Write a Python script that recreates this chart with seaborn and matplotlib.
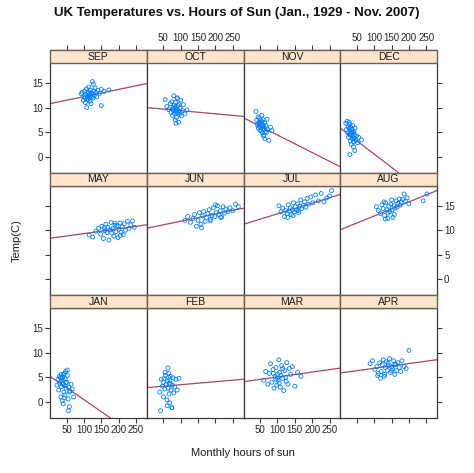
import numpy as np
import pandas as pd
import matplotlib
matplotlib.use("Agg")
import matplotlib.pyplot as plt
from matplotlib.patches import Rectangle
import seaborn as sns

# ---------------- data ----------------
months = ["SEP", "OCT", "NOV", "DEC", "MAY", "JUN", "JUL", "AUG", "JAN", "FEB", "MAR", "APR"]

sep_sun = [92, 95, 98, 100, 102, 104, 105, 107, 108, 110, 111, 112, 113, 114, 115, 116, 117, 118, 119, 120,
           121, 122, 124, 125, 126, 128, 130, 132, 134, 137, 140, 145, 150, 158, 172, 103, 109, 127, 150]
sep_temp = [12.8, 13.1, 11.5, 12.2, 13.4, 11.0, 12.6, 13.8, 10.0, 12.3, 12.9, 11.7, 13.2, 14.2, 12.0, 12.7, 11.3, 13.6, 12.4, 10.8,
            13.0, 12.1, 15.3, 12.8, 11.9, 13.4, 12.5, 14.0, 13.1, 12.2, 13.5, 12.9, 13.7, 13.3, 13.6, 12.0, 11.6, 14.8, 10.4]

oct_sun = [55, 60, 65, 70, 72, 74, 76, 78, 79, 80, 81, 82, 83, 84, 85, 86, 87, 88, 89, 90,
           91, 92, 93, 94, 95, 96, 98, 100, 102, 105, 108, 112, 118, 77, 86, 90, 97]
oct_temp = [11.6, 10.2, 9.6, 10.8, 9.0, 11.2, 8.4, 10.0, 9.4, 12.4, 8.8, 10.5, 9.8, 7.5, 11.0, 9.2, 10.1, 8.0, 9.6, 11.8,
            8.9, 10.4, 9.3, 7.0, 10.7, 8.6, 9.9, 11.5, 8.3, 9.4, 10.6, 8.7, 9.5, 9.7, 6.8, 12.0, 9.1]

nov_sun = [38, 40, 42, 44, 45, 46, 47, 48, 49, 50, 51, 52, 53, 54, 55, 56, 57, 58, 59, 60,
           61, 62, 63, 64, 65, 66, 68, 70, 72, 75, 80, 84, 48, 55, 60]
nov_temp = [9.2, 7.4, 6.5, 8.1, 5.8, 7.0, 6.2, 7.8, 5.4, 6.8, 7.3, 6.0, 5.2, 6.6, 7.1, 4.8, 6.3, 5.7, 7.5, 6.1,
            4.4, 5.6, 6.9, 3.6, 5.1, 6.4, 4.9, 7.6, 5.5, 3.3, 6.0, 5.3, 6.7, 8.4, 4.2]

dec_sun = [18, 20, 22, 24, 25, 26, 27, 28, 29, 30, 31, 32, 33, 34, 35, 36, 37, 38, 39, 40,
           41, 42, 43, 44, 45, 47, 49, 52, 55, 63, 30, 35, 40, 28]
dec_temp = [6.8, 5.5, 7.2, 4.8, 6.1, 3.9, 5.7, 6.6, 4.4, 5.2, 3.2, 6.0, 4.7, 2.5, 5.5, 4.1, 3.6, 6.3, 4.9, 2.0,
            5.1, 3.8, 4.5, 1.2, 5.8, 3.3, 4.2, 2.8, 3.9, 3.4, 0.4, 5.0, 3.0, 7.0]

may_sun = [115, 125, 135, 142, 148, 152, 156, 160, 163, 166, 169, 172, 175, 178, 180, 183, 186, 189, 192, 195,
           198, 201, 204, 207, 210, 213, 216, 220, 225, 230, 235, 240, 245, 158, 190, 205]
may_temp = [9.0, 8.6, 9.8, 10.4, 9.2, 10.8, 8.3, 9.9, 11.2, 9.5, 10.6, 8.0, 10.1, 11.6, 9.4, 10.3, 8.8, 11.0, 9.7, 10.9,
            8.5, 10.2, 11.5, 9.6, 10.7, 9.1, 11.3, 10.0, 11.8, 10.4, 11.1, 11.9, 10.6, 10.5, 11.4, 8.9]

jun_sun = [112, 120, 128, 135, 140, 145, 150, 154, 158, 162, 166, 170, 174, 178, 182, 186, 190, 194, 198, 202,
           206, 210, 214, 218, 222, 226, 230, 236, 242, 250, 258, 266, 160, 185, 200, 215]
jun_temp = [12.0, 12.8, 11.6, 12.4, 13.2, 10.8, 12.0, 13.6, 11.2, 12.9, 13.8, 11.8, 12.6, 13.4, 14.2, 12.2, 13.0, 14.6, 12.8, 13.6,
            15.0, 13.2, 14.0, 12.7, 14.8, 13.5, 14.3, 13.8, 14.6, 14.0, 15.3, 14.8, 10.5, 11.9, 15.2, 12.6]

jul_sun = [104, 110, 115, 120, 124, 128, 131, 134, 137, 140, 143, 146, 149, 152, 155, 158, 161, 164, 167, 170,
           174, 178, 182, 186, 190, 196, 202, 210, 218, 226, 234, 242, 250, 256, 130, 145, 160]
jul_temp = [15.0, 13.8, 14.5, 12.8, 14.0, 13.4, 15.2, 13.9, 14.6, 13.2, 14.2, 15.6, 13.7, 14.8, 14.1, 15.4, 13.6, 14.9, 16.2, 14.4,
            15.1, 15.8, 14.7, 16.5, 15.3, 16.8, 15.6, 17.2, 16.0, 17.5, 15.8, 16.6, 17.0, 18.1, 12.6, 13.0, 14.0]

aug_sun = [106, 112, 118, 122, 126, 130, 133, 136, 139, 142, 145, 148, 151, 154, 157, 160, 163, 166, 169, 172,
           175, 178, 182, 186, 190, 195, 200, 140, 132, 150, 158, 241, 252, 128]
aug_temp = [14.8, 14.0, 13.4, 15.2, 14.4, 13.0, 15.6, 14.2, 12.4, 14.9, 13.8, 15.3, 14.1, 12.6, 15.0, 14.5, 16.0, 14.7, 15.5, 16.4,
            15.1, 15.8, 16.3, 17.4, 15.9, 16.6, 15.4, 13.5, 12.3, 16.2, 13.2, 16.0, 17.4, 15.8]

jan_sun = [22, 25, 27, 29, 30, 32, 33, 34, 35, 36, 37, 38, 39, 40, 41, 42, 43, 44, 45, 46,
           47, 48, 50, 52, 54, 56, 58, 60, 63, 66, 70, 36, 40, 44, 48, 52, 55, 58]
jan_temp = [3.4, 4.6, 2.4, 5.2, 3.8, 4.9, 1.0, 5.6, 3.1, 4.3, 0.2, 5.0, 3.6, -0.4, 4.4, 2.0, 5.8, 3.3, 1.4, 4.7,
            6.2, 2.8, 4.0, 5.4, 0.6, 3.0, -1.0, 2.2, 3.6, 2.6, 1.0, 4.8, 5.5, 0.8, 3.9, 6.5, -1.8, 2.0]

feb_sun = [42, 40, 44, 47, 50, 52, 54, 56, 58, 60, 62, 63, 64, 65, 66, 67, 68, 69, 70, 72,
           74, 76, 78, 80, 83, 86, 90, 95, 55, 61, 65, 70, 75, 50]
feb_temp = [-1.8, 2.0, 4.6, 3.2, 1.0, 4.8, 2.6, 5.4, 3.6, 0.4, 4.2, 6.9, 2.8, 5.8, 1.6, 3.8, -0.2, 4.4, 5.2, 2.4,
            -1.2, 3.4, 4.9, 1.8, 3.0, 4.6, 2.4, 4.8, 6.0, -0.8, 5.0, 3.6, -1.2, 4.0]

mar_sun = [60, 66, 72, 76, 80, 84, 87, 90, 93, 96, 98, 100, 102, 104, 106, 108, 110, 112, 115, 118,
           121, 124, 127, 130, 134, 138, 143, 150, 158, 168, 95, 105, 115, 125, 88, 100]
mar_temp = [4.4, 6.2, 3.6, 5.8, 7.8, 4.0, 6.6, 2.8, 5.2, 7.0, 3.4, 5.6, 4.4, 8.6, 6.0, 3.0, 5.4, 7.4, 4.8, 2.3,
            6.4, 5.0, 8.0, 3.6, 6.8, 5.6, 7.2, 3.2, 6.0, 5.2, 4.6, 3.8, 6.8, 4.2, 5.8, 4.9]

apr_sun = [88, 95, 102, 108, 112, 116, 120, 123, 126, 129, 132, 135, 138, 141, 144, 147, 150, 153, 156, 159,
           162, 165, 168, 172, 176, 180, 186, 192, 200, 118, 130, 140, 150, 160, 110]
apr_temp = [7.8, 8.4, 6.6, 7.2, 5.8, 8.0, 6.2, 7.6, 8.6, 5.2, 7.0, 8.2, 6.4, 7.4, 8.8, 6.0, 7.2, 6.8, 8.4, 5.6,
            7.6, 6.4, 8.0, 7.0, 6.2, 8.4, 7.2, 6.8, 10.5, 4.8, 5.6, 7.9, 6.4, 7.7, 5.4]

sun_by_month = [sep_sun, oct_sun, nov_sun, dec_sun, may_sun, jun_sun, jul_sun, aug_sun,
                jan_sun, feb_sun, mar_sun, apr_sun]
temp_by_month = [sep_temp, oct_temp, nov_temp, dec_temp, may_temp, jun_temp, jul_temp, aug_temp,
                 jan_temp, feb_temp, mar_temp, apr_temp]

# least-squares lines (intercept at 0 h, slope per hour)
fit_intercept = [10.77, 10.01, 7.97, 5.91, 8.33, 10.37, 11.16, 10.04, 5.30, 2.89, 4.08, 5.88]
fit_slope = [0.0147, -0.00645, -0.0358, -0.0542, 0.00986, 0.0147, 0.0219, 0.0287, -0.0487, 0.0061, 0.0100, 0.00968]

x_ticks = [50, 100, 150, 200, 250]
y_ticks = [0, 5, 10, 15]

title = "UK Temperatures vs. Hours of Sun (Jan., 1929 - Nov. 2007)"
x_label = "Monthly hours of sun"
y_label = "Temp(C)"

# ---------------- figure ----------------
sns.set_theme(style="white")
plt.rcParams["font.family"] = ["Liberation Sans", "DejaVu Sans"]

frames = [pd.DataFrame({"month": m, "sun": s, "temp": t})
          for m, s, t in zip(months, sun_by_month, temp_by_month, strict=True)]
df = pd.concat(frames, ignore_index=True)

g = sns.FacetGrid(df, col="month", col_wrap=4, col_order=months,
                  sharex=True, sharey=True, height=1.2, aspect=1.0)
g.map_dataframe(sns.scatterplot, x="sun", y="temp", marker="o", s=8,
                facecolor="none", edgecolor="#0080ff", linewidth=0.6, zorder=2)

fig = g.figure
fig.set_size_inches(4.74, 4.73)
fig.set_dpi(100)
W, H = 474, 473
strip_h = 13 / 110
fig.subplots_adjust(left=50 / W, right=437 / W, top=1 - 63 / H, bottom=1 - 418 / H,
                    wspace=0, hspace=strip_h)

edge = "#3a3a3a"
for i, ax in enumerate(g.axes.flat):
    r, c = divmod(i, 4)
    ax.set_title("")
    ax.set_xlabel("")
    ax.set_ylabel("")
    ax.set_xlim(2, 281)
    ax.set_ylim(-3.3, 19.1)
    ax.set_xticks(x_ticks)
    ax.set_yticks(y_ticks)
    for sp in ax.spines.values():
        sp.set_visible(True)
        sp.set_color(edge)
        sp.set_linewidth(0.9)

    ax.axline((0, fit_intercept[i]), slope=fit_slope[i], color="#a8475f", lw=0.9, zorder=1)

    # lattice-style strip
    ax.add_patch(Rectangle((0, 1), 1, strip_h, transform=ax.transAxes, clip_on=False,
                           facecolor="#ffe5cc", edgecolor="#6b6055", lw=1.0, zorder=3))
    ax.text(0.5, 1 + strip_h / 2, months[i], transform=ax.transAxes, ha="center",
            va="center", fontsize=7.5, color="#1a1a1a", zorder=4)

    ax.tick_params(which="both", direction="out", length=3.6, width=0.8, color=edge,
                   labelsize=7, pad=1.5, labelcolor="#262626")
    top, bottom, left, right = (r == 0), (r == 2), (c == 0), (c == 3)
    ax.tick_params(axis="x", top=top, bottom=bottom,
                   labeltop=top and c % 2 == 1, labelbottom=bottom and c % 2 == 0)
    ax.tick_params(axis="y", left=left, right=right,
                   labelleft=left and r != 1, labelright=right and r == 1)
    if top:
        ax.spines["top"].set_position(("axes", 1 + strip_h))

fig.text(0.5, 1 - 13 / H, title, ha="center", va="center", fontsize=9.5,
         fontweight="bold", color="#111111")
fig.text(243 / W, 1 - 453 / H, x_label, ha="center", va="center", fontsize=8, color="#1a1a1a")
fig.text(17 / W, 1 - 241 / H, y_label, ha="center", va="center", rotation=90,
         fontsize=8, color="#1a1a1a")

fig.savefig("out.png", dpi=100)
